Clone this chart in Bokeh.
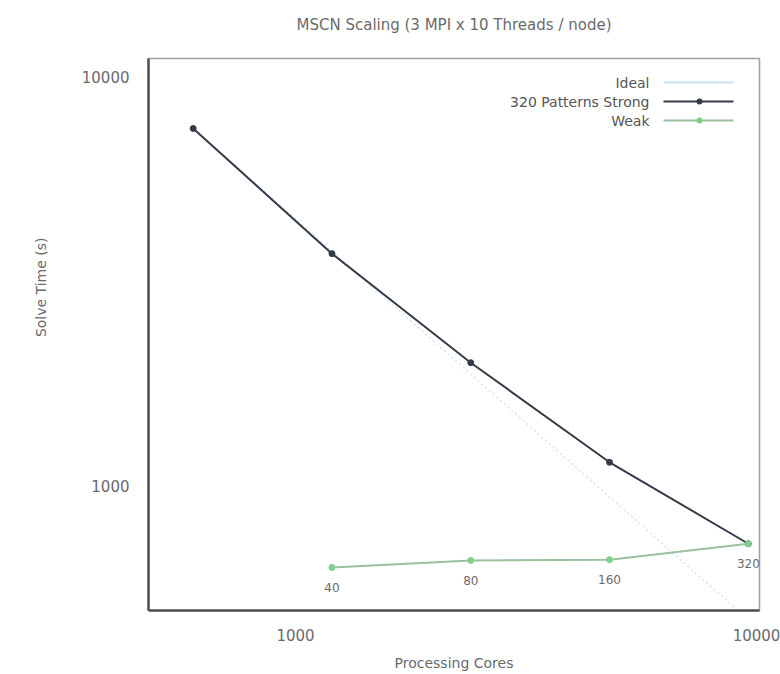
from bokeh.plotting import figure
from bokeh.models import (FixedTicker, NumeralTickFormatter, Label, Arrow,
                          ColumnDataSource, BoxAnnotation, Title)
from bokeh.embed import file_html
from bokeh.resources import INLINE

# Strong scaling: 320 patterns on increasing core counts
cores_strong = [600, 1200, 2400, 4800, 9600]
time_strong = [7500, 3700, 2000, 1140, 720]

# Ideal scaling reference line
time_ideal = [7500, 3750, 1875, 937.5, 468.75]

# Weak scaling: patterns grow with the core count
cores_weak = [1200, 2400, 4800, 9600]
time_weak = [630, 655, 658, 720]
weak_patterns = ["40", "80", "160", "320"]

x_ticks = [1000, 10000]
y_ticks = [1000, 10000]

FONT = "DejaVu Sans"
TEXT = "#6a6a6a"

p = figure(width=780, height=674, x_axis_type="log", y_axis_type="log",
           x_range=(480, 10150), y_range=(494, 11130),
           output_backend="svg", toolbar_location=None,
           min_border_left=147, min_border_right=21,
           min_border_top=58, min_border_bottom=64,
           title="MSCN Scaling (3 MPI x 10 Threads / node)")
p.background_fill_color = "white"
p.border_fill_color = "white"
p.grid.visible = False
p.outline_line_color = "#a0a0a0"
p.outline_line_width = 1.5

# thin spacer between the frame and the title
p.add_layout(Title(text=" ", text_font_size="1px", standoff=9), "above")

p.title.align = "center"
p.title.text_font = FONT
p.title.text_font_size = "15px"
p.title.text_font_style = "normal"
p.title.text_color = TEXT
p.title.standoff = 26

for ax in (p.xaxis[0], p.yaxis[0]):
    ax.axis_line_color = "#505050"
    ax.axis_line_width = 2.5
    ax.major_tick_line_color = None
    ax.minor_tick_line_color = None
    ax.major_label_text_font = FONT
    ax.major_label_text_font_size = "15px"
    ax.major_label_text_color = TEXT
    ax.formatter = NumeralTickFormatter(format="0")
    ax.axis_label_text_font = FONT
    ax.axis_label_text_font_size = "14px"
    ax.axis_label_text_font_style = "normal"
    ax.axis_label_text_color = TEXT

p.xaxis.ticker = FixedTicker(ticks=x_ticks)
p.yaxis.ticker = FixedTicker(ticks=y_ticks)
p.xaxis.major_label_standoff = 12
p.yaxis.major_label_standoff = 13
p.xaxis.axis_label = "Processing Cores"
p.xaxis.axis_label_standoff = 11

# y axis title as a side title, placed above the frame centre
p.add_layout(Title(text="Solve Time (s)", align="right", offset=179,
                   standoff=60, text_font=FONT, text_font_size="14px",
                   text_font_style="normal", text_color=TEXT), "left")

STRONG = "#353b48"
WEAK_LINE = "#9cbf9f"
WEAK_MARK = "#7fd08e"
IDEAL = "#c6e2f1"

p.line(cores_strong, time_ideal, line_color=IDEAL, line_width=1.2,
       line_dash="2 3")
p.line(cores_strong, time_strong, line_color=STRONG, line_width=2)
p.scatter(cores_strong, time_strong, size=6, color=STRONG)

p.line(cores_weak, time_weak, line_color=WEAK_LINE, line_width=2)
p.scatter(cores_weak, time_weak, size=6, color=WEAK_MARK)

src = ColumnDataSource(dict(x=cores_weak, y=time_weak, t=weak_patterns))
p.text(x="x", y="y", text="t", source=src, y_offset=20,
       text_align="center", text_baseline="middle",
       text_font={"value": FONT}, text_font_size="12px", text_color=TEXT)

# legend: right-aligned text with the line sample to its right
legend_rows = [("Ideal", IDEAL, None, 528),
               ("320 Patterns Strong", STRONG, STRONG, 509),
               ("Weak", WEAK_LINE, WEAK_MARK, 490)]
for name, lc, mc, yy in legend_rows:
    p.add_layout(Label(x=501, y=yy, x_units="screen", y_units="screen",
                       text=name, text_align="right", text_baseline="middle",
                       text_font=FONT, text_font_size="14px",
                       text_color="#555555"))
    p.add_layout(Arrow(x_start=515, y_start=yy, x_end=585, y_end=yy,
                       start_units="screen", end_units="screen",
                       start=None, end=None, line_color=lc, line_width=2))
    if mc is not None:
        p.add_layout(BoxAnnotation(left=548, right=554, bottom=yy - 3,
                                   top=yy + 3, left_units="screen",
                                   right_units="screen", top_units="screen",
                                   bottom_units="screen", fill_color=mc,
                                   fill_alpha=1, line_color=None,
                                   border_radius=3))

open("out.html", "w").write(file_html(p, INLINE))
